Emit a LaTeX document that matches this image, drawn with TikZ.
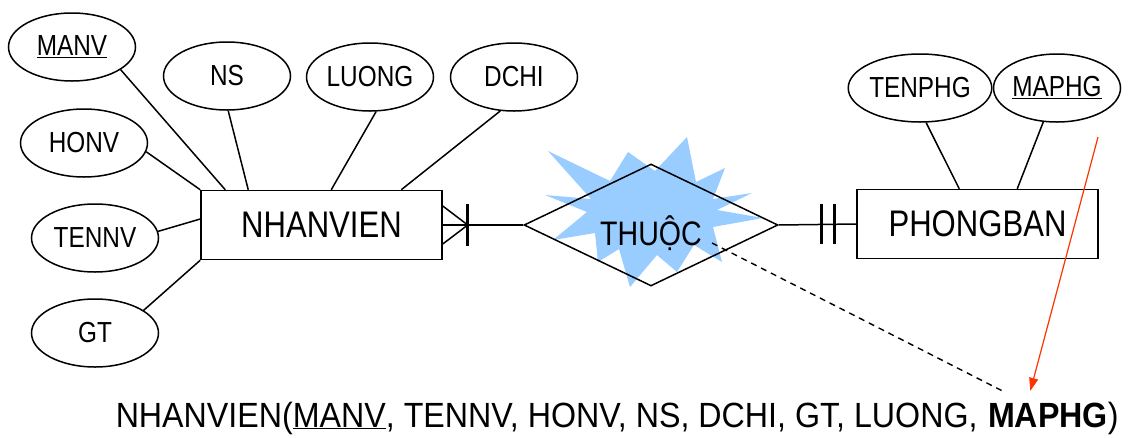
\documentclass[tikz,border=0pt]{standalone}
\usepackage{fontspec}
\setmainfont{Liberation Sans}[FakeStretch=0.84]
\newfontfamily\schemafont{Liberation Sans}[FakeStretch=0.92]
\usetikzlibrary{shapes.geometric, arrows.meta}
\definecolor{starblue}{RGB}{153,204,255}
\definecolor{fkred}{RGB}{255,51,0}

\begin{document}
\begin{tikzpicture}[x=1pt, y=1pt, line width=1.5pt,
    attr/.style={draw, ellipse, minimum width=127pt, minimum height=68pt, inner sep=0pt, font=\fontsize{29}{32}\selectfont},
    entity/.style={draw, rectangle, minimum width=241pt, minimum height=69pt, inner sep=0pt, font=\fontsize{37}{40}\selectfont},
    relship/.style={draw, diamond, shape aspect=2.08, minimum width=254pt, minimum height=122pt, inner sep=0pt,
        text height=40pt, text depth=0pt, font=\fontsize{34}{38}\selectfont},
    schema/.style={anchor=base west, inner sep=0pt, font=\schemafont\fontsize{35}{40}\selectfont},
    fkarrow/.style={draw=fkred, line width=1.2pt, -{Triangle[length=13pt, width=9pt]}}]
    \useasboundingbox (0,0) rectangle (1130,-437);

    % highlight behind the relationship
    \fill[starblue] (548,-151)--(610,-181)--(628,-152)--(655,-171)--(687,-137)--(696,-182)
        --(725,-168)--(713,-199)--(752,-193)--(717,-210)--(763,-218)--(713,-227)
        --(722,-262)--(694,-245)--(677,-272)--(657,-255)--(630,-287)--(619,-249)
        --(598,-262)--(595,-233)--(553,-240)--(587,-212)--(545,-195)--(591,-199)--cycle;

    \node[entity] (nv) at (321.5,-225) {NHANVIEN};
    \node[entity] (pb) at (977.5,-224) {PHONGBAN};
    \node[relship] (thuoc) at (651,-225) {THUỘC};

    \node[attr] (manv) at (72,-47) {\underline{MANV}};
    \node[attr] (ns) at (227,-76) {NS};
    \node[attr] (luong) at (370,-77) {LUONG};
    \node[attr] (dchi) at (514,-77) {DCHI};
    \node[attr] (honv) at (84,-143) {HONV};
    \node[attr] (tennv) at (95,-238) {TENNV};
    \node[attr] (gt) at (95,-333) {GT};
    \node[attr] (tenphg) at (920,-88) {TENPHG};
    \node[attr] (maphg) at (1057,-88) {\underline{MAPHG}};

    \draw (manv.-25) -- ([xshift=25pt]nv.north west);
    \draw (ns.-88) -- ([xshift=48pt]nv.north west);
    \draw (luong.-80) -- ([xshift=131pt]nv.north west);
    \draw (dchi.-112) -- ([xshift=201pt]nv.north west);
    \draw (honv.-8) -- (nv.north west);
    \draw (tennv.6) -- ([yshift=6pt]nv.west);
    \draw (gt.25) -- (nv.south west);
    \draw (tenphg.-80) -- ([xshift=103pt]pb.north west);
    \draw (maphg.-112) -- ([xshift=161pt]pb.north west);

    % many side
    \draw (nv.east) -- (thuoc.west);
    \draw ([yshift=19pt]nv.east) -- ([xshift=25pt]nv.east) -- ([yshift=-19pt]nv.east);
    \draw[line width=2.6pt] ([xshift=25pt,yshift=21pt]nv.east) -- ([xshift=25pt,yshift=-21pt]nv.east);
    % one side
    \draw (thuoc.east) -- (pb.west);
    \draw[line width=2.6pt] ([xshift=-35pt,yshift=20pt]pb.west) -- ([xshift=-35pt,yshift=-20pt]pb.west);
    \draw[line width=2.6pt] ([xshift=-22pt,yshift=20pt]pb.west) -- ([xshift=-22pt,yshift=-20pt]pb.west);

    \node[schema] (nvschema) at (115,-427) {NHANVIEN(\underline{MANV}, TENNV, HONV, NS, DCHI, GT, LUONG,};
    \node[schema] (fk) at ([xshift=9pt]nvschema.base east) {\textbf{MAPHG})};

    \coordinate (fksrc) at (1098,-137);
    \draw[fkarrow] (fksrc) -- ([xshift=-23pt,yshift=10pt]fk.north);
    \draw[dash pattern=on 6pt off 5pt, line width=1.4pt] ([xshift=61pt,yshift=-18pt]thuoc.center) -- ([xshift=-49pt,yshift=9pt]fk.north);
\end{tikzpicture}
\end{document}
